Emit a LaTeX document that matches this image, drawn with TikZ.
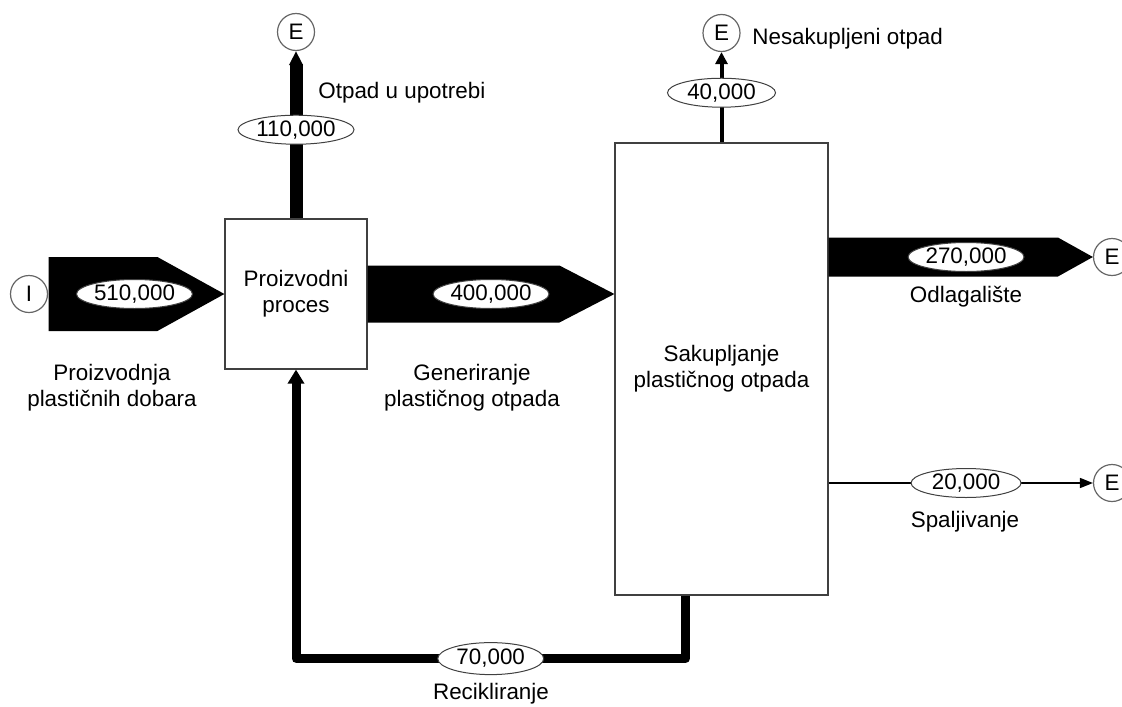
\documentclass[tikz,border=0pt]{standalone}
\usepackage{fontspec}
\setmainfont{Liberation Sans}
\usetikzlibrary{arrows.meta,shapes.geometric,calc}
\begin{document}
\begin{tikzpicture}[
    x=0.5pt, y=-0.5pt,
    font=\fontsize{11.2}{13}\selectfont,
    proc/.style={draw=black!75, fill=white, line width=0.6pt, align=center},
    term/.style={circle, draw=black!60, fill=white, line width=0.6pt, minimum size=18.5pt, inner sep=0pt},
    flow/.style={ellipse, draw=black!75, fill=white, line width=0.5pt, inner sep=0pt, minimum width=58pt, minimum height=14.5pt},
    band/.style={fill=black},
    txt/.style={align=center, inner sep=0pt}
]
\useasboundingbox (0,0) rectangle (1122,706);

% procesi
\node[proc, minimum width=71pt, minimum height=75pt] (pp) at (296,294) {Proizvodni\\proces};
\node[proc, minimum width=106.5pt, minimum height=226pt] (sk) at (721.5,369) {Sakupljanje\\plastičnog otpada};

% ulaz i izlazi
\node[term] (I) at (29,294) {I};
\node[term] (E1) at (296,32) {E};
\node[term] (E2) at (721.5,33) {E};
\node[term] (E3) at (1112,257) {E};
\node[term] (E4) at (1112,483) {E};

% debeli tokovi
\fill[band] ($(I.east)+(0.5,-37)$) -- ($(pp.west)+(-67,-37)$) -- (pp.west)
  -- ($(pp.west)+(-67,37)$) -- ($(I.east)+(0.5,37)$) -- cycle;
\node[flow] (f510) at ($(I.east)!.49!(pp.west)$) {510,000};

\coordinate (t400) at (pp.east -| sk.west);
\fill[band] ($(pp.east)+(0,-28.5)$) -- ($(t400)+(-55,-28.5)$) -- (t400)
  -- ($(t400)+(-55,28.5)$) -- ($(pp.east)+(0,28.5)$) -- cycle;
\node[flow] (f400) at ($(pp.east)!.5!(t400)$) {400,000};

\coordinate (s270) at (sk.east |- E3);
\fill[band] ($(s270)+(0,-19.5)$) -- ($(E3.west)+(-35,-19.5)$) -- (E3.west)
  -- ($(E3.west)+(-35,19.5)$) -- ($(s270)+(0,19.5)$) -- cycle;
\node[flow] (f270) at ($(s270)!.52!(E3.west)$) {270,000};

% ostali tokovi
\draw[line width=6.5pt, -{Triangle[width=6.5pt,length=7pt]}] (pp.north)
  -- node[flow, pos=.53] (f110) {110,000} (E1.south);
\draw[line width=2pt, -{Triangle[width=6pt,length=6pt]}] (sk.north)
  -- node[flow, minimum width=54pt, pos=.55] (f40) {40,000} (E2.south);
\draw[line width=0.75pt, -{Triangle[width=5pt,length=6.5pt]}] (sk.east |- E4)
  -- node[flow, minimum width=55pt, pos=.52] (f20) {20,000} (E4.west);

\coordinate (rs) at ($(sk.south west)+(71,0)$);
\draw[line width=4.5pt, line join=round, -{Triangle[width=8pt,length=7pt]}] (rs)
  -- ++(0,63) coordinate (rb) -| (pp.south);
\node[flow, minimum width=53pt, minimum height=16pt] (f70) at ($(rb)!.5!(rb -| pp.south)$) {70,000};

% opisi
\node[txt] (lproiz) at (112,388) {Proizvodnja\\plastičnih dobara};
\node[txt] (lgen) at (472,388) {Generiranje\\plastičnog otpada};
\node[txt, anchor=west] (lupo) at (318,93) {Otpad u upotrebi};
\node[txt, anchor=west] (lnes) at (752,39) {Nesakupljeni otpad};
\node[txt] (lodl) at (966,297) {Odlagalište};
\node[txt] (lspa) at (965,522) {Spaljivanje};
\node[txt] (lrec) at (491,694) {Recikliranje};

\end{tikzpicture}
\end{document}
